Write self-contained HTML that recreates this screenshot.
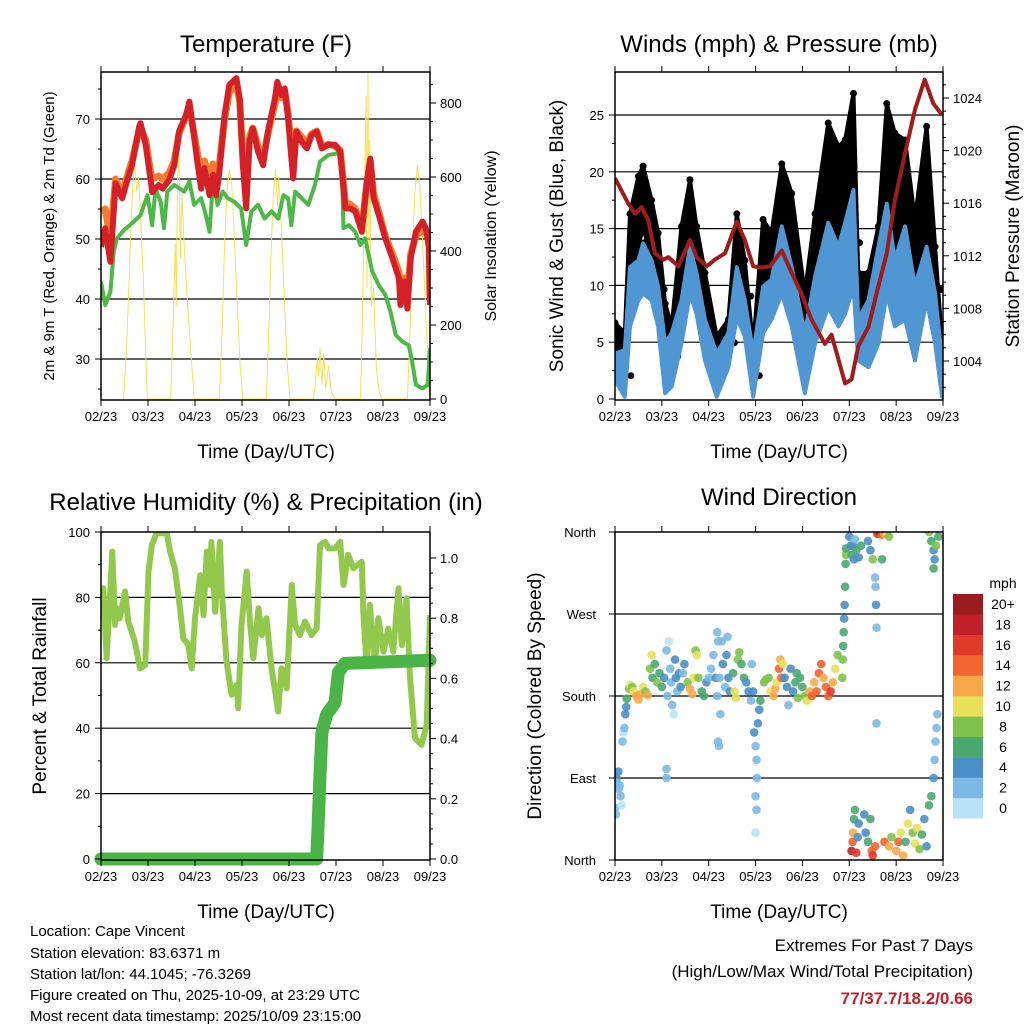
<!DOCTYPE html>
<html><head><meta charset="utf-8"><title>Cape Vincent station chart</title>
<style>
html,body{margin:0;padding:0;background:#fff;}
svg{display:block;font-family:"Liberation Sans",Arial,sans-serif;}
.tl{font-size:13px;fill:#000;}
.ttl{font-size:24px;fill:#000;}
.al{font-size:19px;fill:#000;}
.info{font-size:15px;fill:#000;}
</style></head><body>
<svg id="chart" width="1024" height="1024" viewBox="0 0 1024 1024">
<defs>
<clipPath id="c1"><rect x="101" y="72" width="329" height="328"/></clipPath>
<clipPath id="c2"><rect x="615" y="72" width="328" height="328"/></clipPath>
<clipPath id="c3"><rect x="101" y="532" width="329" height="328"/></clipPath>
<clipPath id="c4"><rect x="615" y="532" width="328" height="328"/></clipPath>
</defs>
<text class="ttl" x="266" y="52" text-anchor="middle">Temperature (F)</text>
<text class="ttl" x="779" y="52" text-anchor="middle">Winds (mph) &amp; Pressure (mb)</text>
<text class="ttl" x="266" y="510" text-anchor="middle">Relative Humidity (%) &amp; Precipitation (in)</text>
<text class="ttl" x="779" y="505" text-anchor="middle">Wind Direction</text>
<text class="al" x="266" y="458" text-anchor="middle">Time (Day/UTC)</text>
<text class="al" x="779" y="458" text-anchor="middle">Time (Day/UTC)</text>
<text class="al" x="266" y="918" text-anchor="middle">Time (Day/UTC)</text>
<text class="al" x="779" y="918" text-anchor="middle">Time (Day/UTC)</text>
<text x="54" y="236" transform="rotate(-90 54 236)" text-anchor="middle" style="font-size:15px">2m &amp; 9m T (Red, Orange) &amp; 2m Td (Green)</text>
<text x="496" y="236" transform="rotate(-90 496 236)" text-anchor="middle" style="font-size:16px">Solar Insolation (Yellow)</text>
<text x="563" y="236" transform="rotate(-90 563 236)" text-anchor="middle" class="al">Sonic Wind &amp; Gust (Blue, Black)</text>
<text x="1019" y="236" transform="rotate(-90 1019 236)" text-anchor="middle" class="al">Station Pressure (Maroon)</text>
<text x="46" y="696" transform="rotate(-90 46 696)" text-anchor="middle" class="al">Percent &amp; Total Rainfall</text>
<text x="541" y="696" transform="rotate(-90 541 696)" text-anchor="middle" class="al">Direction (Colored By Speed)</text>
<g>
<text class="info" x="30" y="936">Location: Cape Vincent</text>
<text class="info" x="30" y="958">Station elevation: 83.6371 m</text>
<text class="info" x="30" y="979">Station lat/lon: 44.1045; -76.3269</text>
<text class="info" x="30" y="1000">Figure created on Thu, 2025-10-09, at 23:29 UTC</text>
<text class="info" x="30" y="1021">Most recent data timestamp: 2025/10/09 23:15:00</text>
</g>
<g>
<text x="973" y="951" text-anchor="end" style="font-size:17px">Extremes For Past 7 Days</text>
<text x="973" y="977" text-anchor="end" style="font-size:17px">(High/Low/Max Wind/Total Precipitation)</text>
<text x="973" y="1004" text-anchor="end" style="font-size:17px;font-weight:bold;fill:#c8202a">77/37.7/18.2/0.66</text>
</g>
<text x="1003" y="588" text-anchor="middle" style="font-size:14px">mph</text>
</svg>
<script>
// ---------- data ----------
const dayLabels=['02/23','03/23','04/23','05/23','06/23','07/23','08/23','09/23'];
const tempTicks=[30,40,50,60,70];
const solarTicks=[0,200,400,600,800];
const windTicks=[0,5,10,15,20,25];
const presTicks=[1004,1008,1012,1016,1020,1024];
const rhTicks=[0,20,40,60,80,100];
const precipTicks=['0.0','0.2','0.4','0.6','0.8','1.0'];
const dirTicks=['North','East','South','West','North'];
const speedBins=['0','2','4','6','8','10','12','14','16','18','20+'];

const tTimes=[0,0.09,0.2,0.31,0.45,0.56,0.66,0.81,0.84,0.95,1.06,1.09,1.23,1.31,1.45,1.56,1.66,1.81,1.88,2.06,2.13,2.2,2.31,2.38,2.45,2.52,2.63,2.73,2.88,2.95,3.02,3.09,3.16,3.23,3.34,3.45,3.55,3.7,3.75,3.84,3.91,3.98,4.05,4.09,4.16,4.27,4.38,4.48,4.59,4.7,4.84,4.98,5.09,5.2,5.3,5.41,5.55,5.66,5.73,5.8,5.91,6.05,6.2,6.34,6.37,6.45,6.52,6.59,6.7,6.84,6.91,6.98,7.0];
const temp2m=[48.7,51.8,46.2,59.3,56.8,59.8,62.3,68.7,69.3,65.7,59.6,57.8,59,58.4,59.8,62.3,67.9,70.7,72.9,62.3,58.4,61.8,57.3,60.7,57.3,61.2,70.7,75.7,76.8,73.4,62.3,55.1,66.2,68.4,64.6,62.3,67.9,73.4,76.2,74,75.1,70.1,63.4,60.1,67.9,66.2,65.1,67.3,67.9,65.1,65.7,65.7,64.6,55.1,55.1,54.6,51.2,59.6,63.4,56.8,54,50.1,46.8,43.4,39,42.9,38.4,46.8,51.2,52.9,51.8,48.4,39];
const temp9m=[54.5,55,50,60,57.5,60.5,63,68,68.5,66.5,61,60,60.5,60,61,63,67.5,70.5,72,64,60.5,63,59.5,62.5,59.5,62.5,70,74.5,75.5,73,63.5,57,67,68.5,65.5,63.5,67.5,72.5,75,73.5,74.5,71,65,62.5,68,67,66,67.5,68,65.5,65.8,65.5,64.8,56,55.8,55,52,59.5,63,57.5,54.5,50.5,47.5,44.5,41,43.5,40,47.5,50.5,51.5,51,51,40];
const tdTimes=[0,0.09,0.2,0.27,0.34,0.49,0.7,0.84,0.99,1.09,1.16,1.27,1.34,1.41,1.56,1.77,1.88,1.98,2.13,2.23,2.31,2.38,2.48,2.59,2.7,2.84,2.98,3.09,3.2,3.34,3.48,3.63,3.77,3.88,3.98,4.05,4.13,4.27,4.41,4.55,4.66,4.84,5.05,5.12,5.16,5.27,5.41,5.52,5.62,5.77,5.91,6.05,6.16,6.27,6.41,6.55,6.62,6.7,6.84,6.95,7.0];
const dewpoint=[42.9,39,41.2,47.9,50.1,51.5,52.9,54,57.3,52.3,58.4,56.2,51.8,57.9,59,57.9,59.6,55.7,56.8,54,51.2,59.6,55.7,57.9,56.8,56.2,55.1,49,54.6,55.7,53.4,54.6,53.4,57.3,56.8,52.3,57.9,56.8,55.7,59,62.9,64,64.3,62.3,51.8,52.3,51.2,49,50.1,44.6,42.3,40.7,37.9,34,32.9,32.3,29.6,25.7,25.1,25.7,31.8];
const solarTimes=[0.48,0.55,0.6,0.64,0.68,0.72,0.76,0.8,0.84,0.9,0.95,0.99,1.48,1.53,1.58,1.6,1.63,1.66,1.69,1.72,1.76,1.82,1.9,1.98,2.52,2.58,2.63,2.68,2.73,2.78,2.84,2.9,2.96,3.02,3.52,3.57,3.62,3.67,3.71,3.75,3.78,3.84,3.9,3.96,4.02,4.52,4.56,4.6,4.63,4.66,4.7,4.74,4.78,4.84,4.9,4.98,5.52,5.56,5.6,5.64,5.66,5.68,5.7,5.72,5.75,5.8,5.86,5.92,5.98,6.52,6.58,6.63,6.68,6.73,6.78,6.84,6.9,6.96,6.99];
const solarVals=[0,150,330,480,590,630,560,600,500,330,120,0,0,180,420,250,600,660,380,560,440,300,150,0,0,200,420,560,620,580,430,260,90,0,0,180,400,560,620,520,600,450,280,100,0,0,40,110,60,140,40,120,30,90,20,0,0,200,500,820,300,880,400,700,250,300,80,20,0,0,200,420,560,630,580,430,260,90,0];
const windTimes=[0,0.21,0.32,0.5,0.6,0.78,0.92,1.07,1.21,1.42,1.6,1.74,1.92,2.17,2.42,2.6,2.77,2.95,3.16,3.34,3.56,3.77,4.05,4.27,4.55,4.77,4.91,5.09,5.19,5.41,5.62,5.8,5.97,6.19,6.4,6.65,6.83,6.98];
const sonicLo=[1.7,0.2,6.4,8.7,9.3,8.7,6.4,0.5,1.1,4.9,9.3,7.5,3.4,0.2,2.8,7.2,5.5,0.2,5.8,7,9.3,6.4,0.5,4.9,8.1,6.4,7.5,9.9,3.4,2.8,4.9,9.3,6.4,7,3.4,8.7,4.9,0.2];
const sonicHi=[4,4.3,11.6,12.2,13.7,12.2,9.9,4.9,5.8,8.7,13.4,11.1,7,4,5.8,11.6,8.7,4,9.9,10.5,15.2,11.6,5.8,10.8,15.5,13.4,15.5,18.4,7,8.7,13.4,17.2,12.2,15.2,9.9,13.4,9.3,3.4];
const gustLo=[2.8,1.7,9.3,13.4,15.2,12.2,9.3,3.4,3.4,9.3,13.4,11.6,6.4,2.6,4.6,11.6,8.7,1.7,9.3,11.1,13.4,12.2,4,9.9,13.4,12.2,11.6,13.4,5.8,6.4,10.8,13.4,11.6,12.2,8.7,12.2,9.3,0.5];
const gustHi=[6.7,5.8,16.3,19.6,20.5,17.5,14.6,8.4,6.4,15.2,19.3,15.2,11.1,5.5,7,16.3,12.2,4.6,15.8,14.6,20.7,18.1,9.3,16.3,24.3,22.2,22.8,26.9,11.1,11.1,15.2,26,23.4,22.8,15.8,24,13.4,4.9];
const presTimes=[0,0.28,0.43,0.57,0.71,0.85,1.03,1.14,1.35,1.6,1.74,1.96,2.13,2.35,2.6,2.77,2.95,3.13,3.31,3.56,3.77,3.98,4.2,4.48,4.62,4.77,4.91,5.05,5.19,5.41,5.62,5.8,5.97,6.19,6.4,6.61,6.79,6.98];
const pressure=[1017.9,1016,1015.2,1015.7,1014.7,1012.2,1011.7,1011.9,1011.2,1013.2,1011.9,1011.2,1011.7,1012.2,1014.6,1013.2,1011.2,1011.1,1011.2,1012.4,1010.7,1009.1,1007.1,1005.3,1006,1004.1,1002.3,1002.6,1005.1,1006.6,1009.7,1012.2,1016.2,1019.8,1023.1,1025.4,1023.6,1022.7];
const rhTimes=[0.01,0.05,0.12,0.19,0.24,0.3,0.33,0.4,0.51,0.58,0.72,0.83,0.94,1.01,1.08,1.18,1.4,1.47,1.57,1.68,1.75,1.86,1.93,2.0,2.11,2.18,2.25,2.32,2.35,2.43,2.53,2.57,2.67,2.78,2.89,2.92,2.99,3.1,3.17,3.24,3.35,3.42,3.52,3.63,3.77,3.84,3.95,4.06,4.13,4.23,4.34,4.48,4.59,4.66,4.77,4.84,4.98,5.09,5.16,5.26,5.37,5.55,5.58,5.65,5.72,5.83,5.9,6.01,6.11,6.22,6.33,6.4,6.5,6.57,6.68,6.82,6.93,7.0];
const rhVals=[73.6,82.8,61.4,79.7,94,71.6,76.7,73.6,81.8,72.6,66.5,58.3,59.3,87.9,96,99.6,99.6,94,88.9,76.7,67.5,65.4,58.3,73.6,86.8,74.6,94,83.8,97,75.6,97,81.8,60.3,50.2,53.2,46.1,71.6,87.9,72.6,61.4,76.7,68.5,73.6,58.3,45.1,58.3,52.2,83.8,71.6,68.5,72.6,68.5,70.5,96,97,95,95,97,83.8,93,88.9,90.9,75.6,59.3,77.7,59.3,73.6,63.4,70.5,63.4,82.8,65.4,79.7,56.3,36.9,34.9,41,74.6];
const precipTimes=[0,4.59,4.62,4.66,4.7,4.8,4.98,5.05,5.19,7.0];
const precipVals=[0,0,0.11,0.28,0.42,0.48,0.52,0.62,0.65,0.66];
const dirTimes=[0,0.02,0.03,0.05,0.07,0.08,0.1,0.12,0.14,0.16,0.18,0.2,0.22,0.24,0.25,0.3,0.33,0.37,0.4,0.45,0.5,0.55,0.6,0.65,0.7,0.75,0.78,0.8,0.85,0.9,0.95,1.0,1.05,1.1,1.12,1.15,1.18,1.2,1.22,1.25,1.28,1.3,1.33,1.37,1.4,1.45,1.48,1.1,1.1,1.55,1.6,1.65,1.68,1.72,1.75,1.78,1.85,1.9,1.95,2.0,2.05,2.1,2.15,2.18,2.2,2.23,2.25,2.28,2.3,2.35,2.38,2.4,2.42,2.45,2.2,2.22,2.18,2.52,2.55,2.58,2.62,2.65,2.7,2.75,2.8,2.85,2.9,2.92,2.95,2.97,3.0,3.02,3.03,3.0,3.02,3.0,3.05,3.08,3.1,3.18,3.22,3.28,3.32,3.38,3.42,3.45,3.5,3.53,3.55,3.58,3.62,3.67,3.7,3.75,3.8,3.85,3.88,3.9,3.95,4.0,4.05,4.1,4.15,4.2,4.25,4.3,4.35,4.4,4.45,4.5,4.55,4.6,4.65,4.7,4.75,4.85,4.86,4.87,4.88,4.89,4.9,4.91,4.92,4.93,4.93,5.0,5.03,5.05,5.08,5.1,5.12,5.15,5.2,5.25,5.05,5.07,5.08,5.1,5.12,5.15,5.18,5.2,5.32,5.35,5.4,5.45,5.48,5.5,5.55,5.4,5.45,5.5,5.55,5.56,5.57,5.58,5.58,5.6,5.65,5.7,5.75,5.8,5.85,5.75,5.85,5.9,6.0,6.05,6.1,6.15,6.2,6.25,6.3,6.35,6.4,6.45,6.5,6.55,6.6,6.65,6.7,6.75,6.8,6.82,6.84,6.86,6.88,6.7,6.75,6.8,6.82,6.85,6.9,6.8,5.7];
const dirDeg=[57,50,90,85,97,78,82,70,60,130,140,145,160,168,177,188,192,190,185,180,176,182,190,185,181,210,225,200,215,195,205,190,200,230,180,240,210,195,170,160,220,200,185,205,190,205,215,100,90,195,188,182,200,230,225,200,185,180,195,200,210,225,200,180,240,200,160,240,215,190,225,245,200,185,130,125,250,205,185,178,220,228,215,200,195,185,175,215,185,140,125,110,90,70,55,30,150,165,175,195,198,200,185,180,188,195,210,220,200,215,200,190,170,210,185,195,205,178,200,190,180,175,185,180,195,185,205,215,200,190,180,185,195,210,225,200,220,235,250,265,280,300,325,335,342,355,345,335,345,330,352,340,332,345,10,20,30,45,55,8,25,40,50,30,20,45,10,5,15,350,340,330,310,300,280,255,150,358,360,357,358,360,355,20,15,25,10,20,30,5,20,40,55,30,18,35,12,28,45,15,60,70,90,110,130,145,160,360,350,340,330,345,355,320,330];
const dirSpeed=[3,2,4,3,4,3,2,2,1,2,1,2,4,4,6,8,10,9,10,12,13,12,10,8,12,9,10,7,6,8,6,7,4,2,2,1,3,2,2,1,4,5,3,4,5,3,4,2,2,8,12,12,10,8,10,8,6,7,5,3,2,2,4,2,3,2,3,2,4,3,4,2,5,4,2,2,2,6,10,10,8,8,7,6,5,5,2,3,4,4,3,2,3,2,2,1,4,4,6,8,8,8,10,13,12,11,14,12,14,10,4,4,2,4,5,6,6,8,6,6,9,10,13,14,12,15,14,14,12,14,15,16,12,10,8,8,8,6,6,4,4,6,6,8,6,4,4,6,4,4,3,6,5,6,18,14,12,6,6,16,4,4,4,4,6,6,14,16,14,4,4,8,2,3,4,2,2,16,18,14,12,10,8,14,12,8,12,14,10,12,6,10,4,8,10,10,8,6,4,4,6,6,4,2,2,2,2,8,6,4,4,8,6,6,6];
const speedColors=['#b8e2f8','#7cb9e6','#4a8fc6','#4aa86e','#7ec34d','#e8e05a','#f8a84a','#f26430','#e03a2a','#c0202a','#9b1b1e'];

// ---------- scales ----------
const xL=t=>101+t*47, xR=t=>615+t*46.86;
const yT=v=>359-(v-30)*6, yS=v=>399-v*0.37;
const yW=v=>399-v*11.36, yP=p=>361-(p-1004)*13.15;
const yRH=v=>859-v*3.27, yPr=v=>859-v*301;
const yD=d=>860-d*328/360;

const svg=document.getElementById('chart');
const NS='http://www.w3.org/2000/svg';
function mk(tag,parent){const e=document.createElementNS(NS,tag);parent.appendChild(e);return e;}
function grp(name,clip){const g=mk('g',svg);if(clip)g.setAttribute('clip-path','url(#'+clip+')');return g;}
function pts(xs,ys,fx,fy){return xs.map((t,i)=>fx(t).toFixed(1)+','+fy(ys[i]).toFixed(1)).join(' ');}
function line(g,x1,y1,x2,y2,w){const l=mk('line',g);l.setAttribute('x1',x1);l.setAttribute('y1',y1);l.setAttribute('x2',x2);l.setAttribute('y2',y2);l.setAttribute('stroke','#000');l.setAttribute('stroke-width',w||1);return l;}
function txt(g,x,y,s,anchor){const t=mk('text',g);t.setAttribute('x',x);t.setAttribute('y',y);t.setAttribute('class','tl');t.setAttribute('text-anchor',anchor||'middle');t.textContent=s;return t;}

function grid(name,x0,x1,ys){const g=grp(name);ys.forEach(y=>{line(g,x0,y,x1,y,1.2);});}
grid('temp-gridlines',101,430,tempTicks.map(yT));
grid('wind-gridlines',615,943,windTicks.slice(1).map(yW));
grid('rh-gridlines',101,430,rhTicks.slice(1,5).map(yRH));
grid('dir-gridlines',615,943,[90,180,270].map(yD));

// ---- temperature panel ----
let g=grp('solar-insolation-series','c1');
let p=mk('polyline',g);p.setAttribute('points',pts(solarTimes,solarVals,xL,yS));p.setAttribute('fill','none');p.setAttribute('stroke','#f6e05a');p.setAttribute('stroke-width','1');
g=grp('dewpoint-series','c1');
p=mk('polyline',g);p.setAttribute('points',pts(tdTimes,dewpoint,xL,yT));p.setAttribute('fill','none');p.setAttribute('stroke','#4db848');p.setAttribute('stroke-width','4');p.setAttribute('stroke-linejoin','round');
g=grp('temp-9m-series','c1');
p=mk('polyline',g);p.setAttribute('points',pts(tTimes,temp9m,xL,yT));p.setAttribute('fill','none');p.setAttribute('stroke','#f47c30');p.setAttribute('stroke-width','7');p.setAttribute('stroke-linejoin','round');
g=grp('temp-2m-series','c1');
p=mk('polyline',g);p.setAttribute('points',pts(tTimes,temp2m,xL,yT));p.setAttribute('fill','none');p.setAttribute('stroke','#d42127');p.setAttribute('stroke-width','6');p.setAttribute('stroke-linejoin','round');

// ---- wind panel ----
function band(name,lo,hi,color,clip){const gg=grp(name,clip);const a=windTimes.map((t,i)=>xR(t).toFixed(1)+','+yW(hi[i]).toFixed(1));const b=windTimes.map((t,i)=>xR(t).toFixed(1)+','+yW(lo[i]).toFixed(1)).reverse();const pg=mk('polygon',gg);pg.setAttribute('points',a.concat(b).join(' '));pg.setAttribute('fill',color);pg.setAttribute('stroke',color);pg.setAttribute('stroke-width','4');pg.setAttribute('stroke-linejoin','round');return gg;}
g=band('gust-series',gustLo,gustHi,'#000','c2');
gustHi.forEach((v,i)=>{const c=mk('circle',g);


c.setAttribute('cx',xR(windTimes[i]));c.setAttribute('cy',yW(v));c.setAttribute('r',3.5);c.setAttribute('fill','#000');});
gustLo.forEach((v,i)=>{const c=mk('circle',g);


c.setAttribute('cx',xR(windTimes[i])+6);c.setAttribute('cy',yW(v)-4);c.setAttribute('r',3.5);c.setAttribute('fill','#000');});
band('sonic-wind-series',sonicLo,sonicHi,'#4f96d2','c2');
g=grp('pressure-series','c2');
p=mk('polyline',g);p.setAttribute('points',pts(presTimes,pressure,xR,yP));p.setAttribute('fill','none');p.setAttribute('stroke','#a01c1c');p.setAttribute('stroke-width','4');p.setAttribute('stroke-linejoin','round');

// ---- RH panel ----
g=grp('rh-series','c3');
p=mk('polyline',g);p.setAttribute('points',pts(rhTimes,rhVals,xL,yRH));p.setAttribute('fill','none');p.setAttribute('stroke','#92c94c');p.setAttribute('stroke-width','6');p.setAttribute('stroke-linejoin','round');
g=grp('precip-series');
p=mk('polyline',g);p.setAttribute('points',pts(precipTimes,precipVals,xL,yPr));p.setAttribute('fill','none');p.setAttribute('stroke','#4ab447');p.setAttribute('stroke-width','13');p.setAttribute('stroke-linejoin','round');p.setAttribute('stroke-linecap','round');

// ---- direction panel ----
g=grp('direction-scatter','c4');
dirTimes.forEach((t,i)=>{const c=mk('circle',g);


c.setAttribute('cx',xR(t).toFixed(1));c.setAttribute('cy',yD(dirDeg[i]).toFixed(1));c.setAttribute('r',4.3);c.setAttribute('fill',speedColors[Math.min(10,Math.floor(dirSpeed[i]/2))]);c.setAttribute('fill-opacity','0.9');});

// colorbar
g=grp('speed-colorbar');
speedBins.forEach((s,i)=>{const k=10-i;const y=594+k*20.4;const r=mk('rect',g);


r.setAttribute('x',953);r.setAttribute('y',y);r.setAttribute('width',30);r.setAttribute('height',20.6);r.setAttribute('fill',speedColors[i]);
const t=txt(g,1003,y+15,s,'middle');t.style.fontSize='14px';});

// ---- frames & axes ----
function frame(name,x0,y0,w,h){const gg=grp(name);const r=mk('rect',gg);r.setAttribute('x',x0);r.setAttribute('y',y0);r.setAttribute('width',w);r.setAttribute('height',h);r.setAttribute('fill','none');r.setAttribute('stroke','#000');r.setAttribute('stroke-width','1.5');return gg;}
function xAxis(name,fx,y0,y1){const gg=grp(name);dayLabels.forEach((s,i)=>{const x=fx(i);line(gg,x,y1,x,y1+6);line(gg,x,y0,x,y0-6);txt(gg,x,y1+21,s);});}
g=frame('temp-plot-frame',101,72,329,328);
xAxis('temp-x-axis',xL,72,400);
g=grp('temp-y-axis');
for(let v=25;v<=75;v+=5){const y=yT(v);line(g,101,y,v%10==0?95:98,y);}
tempTicks.forEach(v=>txt(g,90,yT(v)+5,String(v),'end'));
g=grp('solar-y-axis');
for(let v=0;v<=850;v+=50){const y=yS(v);line(g,430,y,v%200==0?436:433,y);}
solarTicks.forEach(v=>txt(g,440,yS(v)+5,String(v),'start'));

g=frame('wind-plot-frame',615,72,328,328);
xAxis('wind-x-axis',xR,72,400);
g=grp('wind-y-axis');
for(let v=0;v<=27;v+=2.5){const y=yW(v);line(g,615,y,v%5==0?609:612,y);}
windTicks.forEach(v=>txt(g,604,yW(v)+5,String(v),'end'));
g=grp('pressure-y-axis');
for(let v=1002;v<=1026;v+=1){const y=yP(v);if(y>=72&&y<=400)line(g,943,y,v%4==0?949:946,y);}
presTicks.forEach(v=>txt(g,953,yP(v)+5,String(v),'start'));

g=frame('rh-plot-frame',101,532,329,328);
xAxis('rh-x-axis',xL,532,860);
g=grp('rh-y-axis');
for(let v=0;v<=100;v+=10){const y=yRH(v);line(g,101,y,v%20==0?95:98,y);}
rhTicks.forEach(v=>txt(g,90,yRH(v)+5,String(v),'end'));
g=grp('precip-y-axis');
for(let v=0;v<=1.05;v+=0.05){const y=yPr(v);line(g,430,y,Math.round(v*100)%20==0?436:433,y);}
precipTicks.forEach(s=>txt(g,440,yPr(parseFloat(s))+5,s,'start'));

g=frame('dir-plot-frame',615,532,328,328);
xAxis('dir-x-axis',xR,532,860);
g=grp('dir-y-axis');
dirTicks.forEach((s,i)=>{const y=yD(i*90);line(g,615,y,609,y);txt(g,596,y+5,s,'end');});
</script>
</body></html>
